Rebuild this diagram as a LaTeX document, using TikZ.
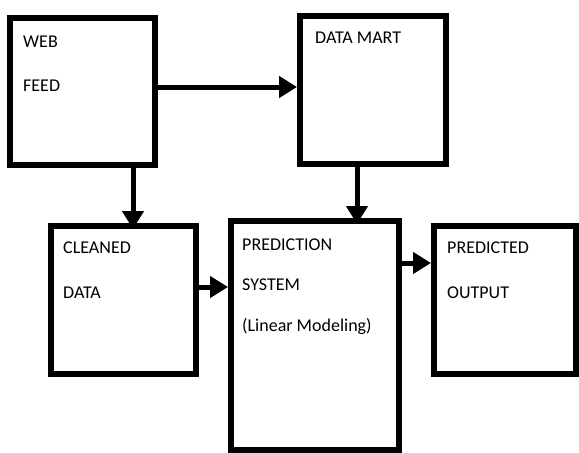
\documentclass[tikz,border=0pt]{standalone}
\usepackage{fontspec}
\setmainfont{Carlito}
\usetikzlibrary{arrows.meta}
\begin{document}
\begin{tikzpicture}[x=1pt,y=-1pt,
  box/.style={draw=black, line width=6pt, inner sep=0pt, outer sep=0pt, fill=white},
  lbl/.style={anchor=base west, inner sep=0pt, font=\fontsize{18}{18}\selectfont},
  arr/.style={draw=black, line width=5pt, -{Triangle[length=18pt,width=21pt]}}
]
\fill[white] (0,0) rectangle (579,453);
\useasboundingbox (0,0) rectangle (579,453);

\node[box, minimum width=145pt, minimum height=147pt] (web) at (82.5,91.5) {};
\node[box, minimum width=146pt, minimum height=148pt] (mart) at (373,90) {};
\node[box, minimum width=145pt, minimum height=148pt] (clean) at (123.5,300) {};
\node[box, minimum width=168pt, minimum height=229pt] (pred) at (315,335.5) {};
\node[box, minimum width=142pt, minimum height=148pt] (out) at (505,300) {};

\node[lbl] (t1) at (23,47) {WEB};
\node[lbl] (t2) at (23,91) {FEED};
\node[lbl] (t3) at (315,43) {DATA MART};
\node[lbl] (t4) at (63,253) {CLEANED};
\node[lbl] (t5) at (63,298) {DATA};
\node[lbl] (t6) at (242,250) {PREDICTION};
\node[lbl] (t7) at (242,290) {SYSTEM};
\node[lbl] (t8) at (242,331) {(Linear Modeling)};
\node[lbl] (t9) at (447,253) {PREDICTED};
\node[lbl] (t10) at (447,298) {OUTPUT};

\coordinate (ya) at (0,87);
\coordinate (xb) at (133,0);
\coordinate (xc) at (357,0);
\coordinate (yd) at (0,287);
\coordinate (ye) at (0,263);

\draw[arr] ([xshift=3pt]web.east |- ya) -- ([xshift=-3pt]mart.west |- ya);
\draw[arr] ([yshift=3pt]web.south -| xb) -- ([yshift=-3pt]clean.north -| xb);
\draw[arr] ([yshift=3pt]mart.south -| xc) -- ([yshift=-3pt]pred.north -| xc);
\draw[arr] ([xshift=3pt]clean.east |- yd) -- ([xshift=-3pt]pred.west |- yd);
\draw[arr] ([xshift=3pt]pred.east |- ye) -- ([xshift=-3pt]out.west |- ye);
\end{tikzpicture}
\end{document}
